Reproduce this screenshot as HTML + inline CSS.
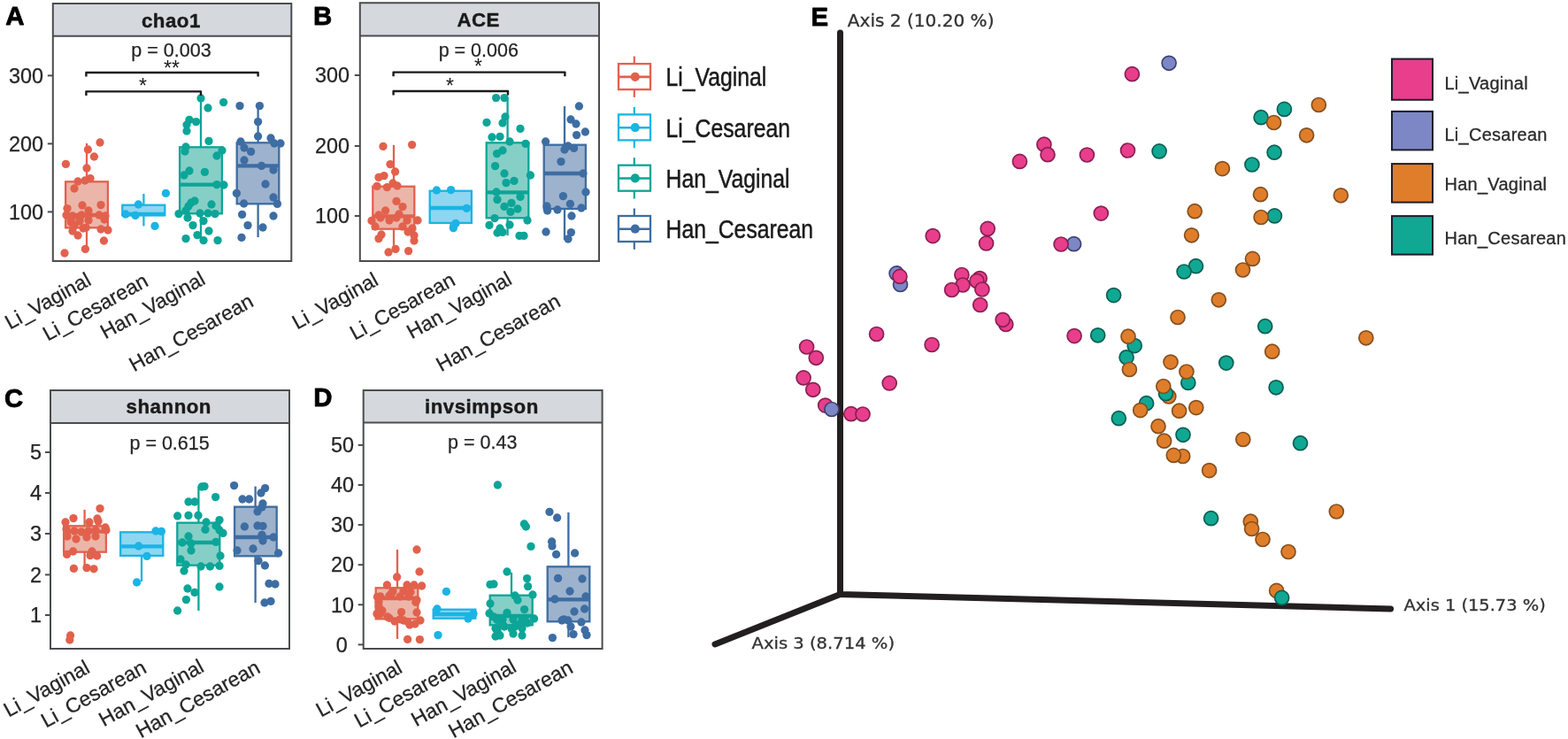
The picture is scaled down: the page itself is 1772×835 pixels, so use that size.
<!DOCTYPE html>
<html lang="en">
<head>
<meta charset="utf-8">
<title>Alpha diversity and PCoA</title>
<style>
html,body{margin:0;padding:0;background:#fff;}
body{width:1772px;height:835px;overflow:hidden;}
svg{display:block;}
text{font-family:"Liberation Sans",Arial,Helvetica,sans-serif;fill:#262626;}
.pl{font-size:30px;font-weight:bold;fill:#000;stroke:#000;stroke-width:0.8px;stroke-linejoin:round;}
.st{font-size:22.3px;font-weight:bold;fill:#1a1a1a;letter-spacing:0.5px;stroke:#1a1a1a;stroke-width:0.4px;}
.pv{font-size:21.5px;stroke:#262626;stroke-width:0.25px;}
.yl{font-size:23.4px;stroke:#262626;stroke-width:0.25px;}
.xl{font-size:23.2px;stroke:#262626;stroke-width:0.25px;}
.star{font-size:23px;fill:#1a1a1a;}
.lg{font-size:29.5px;fill:#1a1a1a;stroke:#1a1a1a;stroke-width:0.5px;}
.ax{font-family:"DejaVu Sans",Verdana,sans-serif;font-size:19px;fill:#333;stroke:#333;stroke-width:0.3px;}
.el{font-size:20px;fill:#2a2a2a;letter-spacing:0.25px;stroke:#2a2a2a;stroke-width:0.3px;}
</style>
</head>
<body>
<svg width="1772" height="835" viewBox="0 0 1772 835">
<rect width="1772" height="835" fill="#fff"/>
<g>
<text transform="translate(6.2 28.2) scale(0.98 1)" class="pl">A</text>
<rect x="59.8" y="4" width="269.5" height="36.8" fill="#d5d8dc"/>
<path d="M59.8 4 H329.3 V295 H59.8 Z M59.8 40.8 H329.3" fill="none" stroke="#4a4c4e" stroke-width="2"/>
<text x="193.4" y="31" class="st" text-anchor="middle">chao1</text>
<text x="193.5" y="64" class="pv" text-anchor="middle">p = 0.003</text>
<line x1="53.8" y1="85.4" x2="59.8" y2="85.4" stroke="#4a4c4e" stroke-width="2"/>
<text x="49" y="93.6" class="yl" text-anchor="end">300</text>
<line x1="53.8" y1="162.4" x2="59.8" y2="162.4" stroke="#4a4c4e" stroke-width="2"/>
<text x="49" y="170.6" class="yl" text-anchor="end">200</text>
<line x1="53.8" y1="239.4" x2="59.8" y2="239.4" stroke="#4a4c4e" stroke-width="2"/>
<text x="49" y="247.6" class="yl" text-anchor="end">100</text>
<line x1="98" y1="162" x2="98" y2="205.3" stroke="#E2614D" stroke-width="2.3"/>
<line x1="98" y1="257.3" x2="98" y2="282" stroke="#E2614D" stroke-width="2.3"/>
<rect x="74.1" y="205.3" width="47.8" height="52.0" fill="#ebb6a9" stroke="#E2614D" stroke-width="2.3"/>
<line x1="74.1" y1="243" x2="121.9" y2="243" stroke="#E2614D" stroke-width="4.4"/>
<line x1="162.4" y1="219" x2="162.4" y2="231.7" stroke="#1BB4E4" stroke-width="2.3"/>
<line x1="162.4" y1="243.3" x2="162.4" y2="255.4" stroke="#1BB4E4" stroke-width="2.3"/>
<rect x="138.3" y="231.7" width="48.0" height="11.6" fill="#8fd6f1" stroke="#1BB4E4" stroke-width="2.3"/>
<line x1="138.3" y1="242" x2="186.3" y2="242" stroke="#1BB4E4" stroke-width="4.4"/>
<line x1="227" y1="111" x2="227" y2="166.3" stroke="#0CA597" stroke-width="2.3"/>
<line x1="227" y1="241.3" x2="227" y2="270" stroke="#0CA597" stroke-width="2.3"/>
<rect x="203.1" y="166.3" width="47.8" height="75.0" fill="#86cfc7" stroke="#0CA597" stroke-width="2.3"/>
<line x1="203.1" y1="208.6" x2="250.9" y2="208.6" stroke="#0CA597" stroke-width="4.4"/>
<line x1="291.6" y1="120" x2="291.6" y2="161.3" stroke="#3D6DA3" stroke-width="2.3"/>
<line x1="291.6" y1="230.3" x2="291.6" y2="268" stroke="#3D6DA3" stroke-width="2.3"/>
<rect x="267.7" y="161.3" width="47.6" height="69.0" fill="#9db2cd" stroke="#3D6DA3" stroke-width="2.3"/>
<line x1="267.7" y1="187.4" x2="315.3" y2="187.4" stroke="#3D6DA3" stroke-width="4.4"/>
<g fill="#E2614D"><circle cx="113.0" cy="161.0" r="4.65"/><circle cx="99.4" cy="169.0" r="4.65"/><circle cx="106.4" cy="177.0" r="4.65"/><circle cx="74.4" cy="185.4" r="4.65"/><circle cx="98.0" cy="190.0" r="4.65"/><circle cx="102.0" cy="201.6" r="4.65"/><circle cx="96.0" cy="204.0" r="4.65"/><circle cx="88.0" cy="205.0" r="4.65"/><circle cx="84.0" cy="213.0" r="4.65"/><circle cx="76.0" cy="235.6" r="4.65"/><circle cx="93.0" cy="232.0" r="4.65"/><circle cx="114.0" cy="231.6" r="4.65"/><circle cx="100.0" cy="238.0" r="4.65"/><circle cx="75.0" cy="243.0" r="4.65"/><circle cx="82.0" cy="244.0" r="4.65"/><circle cx="92.0" cy="243.0" r="4.65"/><circle cx="100.0" cy="244.0" r="4.65"/><circle cx="112.0" cy="243.0" r="4.65"/><circle cx="119.0" cy="244.0" r="4.65"/><circle cx="80.0" cy="249.0" r="4.65"/><circle cx="90.0" cy="250.0" r="4.65"/><circle cx="100.0" cy="249.0" r="4.65"/><circle cx="118.0" cy="248.0" r="4.65"/><circle cx="84.0" cy="255.0" r="4.65"/><circle cx="94.0" cy="258.0" r="4.65"/><circle cx="114.0" cy="259.0" r="4.65"/><circle cx="122.0" cy="260.0" r="4.65"/><circle cx="82.0" cy="261.0" r="4.65"/><circle cx="88.0" cy="266.0" r="4.65"/><circle cx="117.4" cy="272.0" r="4.65"/><circle cx="96.4" cy="281.4" r="4.65"/><circle cx="73.0" cy="286.0" r="4.65"/><circle cx="89.9" cy="247.7" r="4.65"/><circle cx="97.1" cy="257.3" r="4.65"/><circle cx="80.4" cy="251.3" r="4.65"/></g>
<g fill="#1BB4E4"><circle cx="187.4" cy="218.4" r="4.65"/><circle cx="156.4" cy="231.0" r="4.65"/><circle cx="142.0" cy="242.0" r="4.65"/><circle cx="153.0" cy="243.4" r="4.65"/><circle cx="175.0" cy="255.4" r="4.65"/></g>
<g fill="#0CA597"><circle cx="227.0" cy="111.0" r="4.65"/><circle cx="252.6" cy="115.6" r="4.65"/><circle cx="235.0" cy="122.0" r="4.65"/><circle cx="214.0" cy="135.4" r="4.65"/><circle cx="221.6" cy="137.6" r="4.65"/><circle cx="211.0" cy="141.0" r="4.65"/><circle cx="211.0" cy="148.0" r="4.65"/><circle cx="236.0" cy="159.4" r="4.65"/><circle cx="210.0" cy="166.0" r="4.65"/><circle cx="209.0" cy="171.0" r="4.65"/><circle cx="251.0" cy="170.0" r="4.65"/><circle cx="245.0" cy="176.0" r="4.65"/><circle cx="214.0" cy="193.0" r="4.65"/><circle cx="208.0" cy="198.0" r="4.65"/><circle cx="231.4" cy="194.4" r="4.65"/><circle cx="245.0" cy="208.6" r="4.65"/><circle cx="253.0" cy="209.0" r="4.65"/><circle cx="220.0" cy="227.0" r="4.65"/><circle cx="216.0" cy="229.0" r="4.65"/><circle cx="213.0" cy="233.0" r="4.65"/><circle cx="239.0" cy="231.0" r="4.65"/><circle cx="210.0" cy="238.0" r="4.65"/><circle cx="202.0" cy="241.6" r="4.65"/><circle cx="226.0" cy="241.0" r="4.65"/><circle cx="235.0" cy="241.0" r="4.65"/><circle cx="243.0" cy="241.6" r="4.65"/><circle cx="212.0" cy="246.0" r="4.65"/><circle cx="230.0" cy="249.6" r="4.65"/><circle cx="218.0" cy="254.6" r="4.65"/><circle cx="236.0" cy="261.0" r="4.65"/><circle cx="223.0" cy="265.6" r="4.65"/><circle cx="210.0" cy="269.6" r="4.65"/><circle cx="230.0" cy="271.6" r="4.65"/><circle cx="246.0" cy="271.6" r="4.65"/></g>
<g fill="#3D6DA3"><circle cx="271.0" cy="119.6" r="4.65"/><circle cx="293.4" cy="119.6" r="4.65"/><circle cx="291.6" cy="137.6" r="4.65"/><circle cx="291.6" cy="154.0" r="4.65"/><circle cx="306.0" cy="156.0" r="4.65"/><circle cx="272.0" cy="160.0" r="4.65"/><circle cx="310.0" cy="162.0" r="4.65"/><circle cx="317.0" cy="162.0" r="4.65"/><circle cx="276.0" cy="167.0" r="4.65"/><circle cx="283.6" cy="171.4" r="4.65"/><circle cx="276.0" cy="181.0" r="4.65"/><circle cx="295.6" cy="187.4" r="4.65"/><circle cx="309.0" cy="192.0" r="4.65"/><circle cx="300.0" cy="208.0" r="4.65"/><circle cx="267.4" cy="218.4" r="4.65"/><circle cx="309.0" cy="223.0" r="4.65"/><circle cx="275.6" cy="230.0" r="4.65"/><circle cx="313.4" cy="230.4" r="4.65"/><circle cx="273.6" cy="242.4" r="4.65"/><circle cx="309.0" cy="244.0" r="4.65"/><circle cx="280.0" cy="254.6" r="4.65"/><circle cx="297.0" cy="257.0" r="4.65"/><circle cx="273.0" cy="268.4" r="4.65"/></g>
<path d="M97.4 86.6 V82 H291.6 V86.6" fill="none" stroke="#1a1a1a" stroke-width="2.4" stroke-linejoin="round"/>
<text x="194" y="84.5" class="star" text-anchor="middle">**</text>
<path d="M97.4 108.0 V103.4 H227 V108.0" fill="none" stroke="#1a1a1a" stroke-width="2.4" stroke-linejoin="round"/>
<text x="161.4" y="104.5" class="star" text-anchor="middle">*</text>
<text transform="translate(104.4 321) rotate(-29)" class="xl" text-anchor="end">Li_Vaginal</text>
<text transform="translate(169 322) rotate(-29)" class="xl" text-anchor="end">Li_Cesarean</text>
<text transform="translate(233.6 320) rotate(-29)" class="xl" text-anchor="end">Han_Vaginal</text>
<text transform="translate(288 345) rotate(-29)" class="xl" text-anchor="end">Han_Cesarean</text>
</g>
<g>
<text transform="translate(354.0 28.2) scale(0.98 1)" class="pl">B</text>
<rect x="406.8" y="3.2" width="270.2" height="37.4" fill="#d5d8dc"/>
<path d="M406.8 3.2 H677 V295 H406.8 Z M406.8 40.6 H677" fill="none" stroke="#4a4c4e" stroke-width="2"/>
<text x="540.7" y="29.8" class="st" text-anchor="middle">ACE</text>
<text x="540.8" y="64" class="pv" text-anchor="middle">p = 0.006</text>
<line x1="400.8" y1="85" x2="406.8" y2="85" stroke="#4a4c4e" stroke-width="2"/>
<text x="395" y="93.2" class="yl" text-anchor="end">300</text>
<line x1="400.8" y1="165" x2="406.8" y2="165" stroke="#4a4c4e" stroke-width="2"/>
<text x="395" y="173.2" class="yl" text-anchor="end">200</text>
<line x1="400.8" y1="244" x2="406.8" y2="244" stroke="#4a4c4e" stroke-width="2"/>
<text x="395" y="252.2" class="yl" text-anchor="end">100</text>
<line x1="445" y1="164" x2="445" y2="210.7" stroke="#E2614D" stroke-width="2.3"/>
<line x1="445" y1="258.7" x2="445" y2="283" stroke="#E2614D" stroke-width="2.3"/>
<rect x="421.3" y="210.7" width="47.0" height="48.0" fill="#ebb6a9" stroke="#E2614D" stroke-width="2.3"/>
<line x1="421.3" y1="244.4" x2="468.3" y2="244.4" stroke="#E2614D" stroke-width="4.4"/>
<line x1="509.4" y1="215" x2="509.4" y2="215.7" stroke="#1BB4E4" stroke-width="2.3"/>
<line x1="509.4" y1="251.9" x2="509.4" y2="258" stroke="#1BB4E4" stroke-width="2.3"/>
<rect x="485.7" y="215.7" width="47.2" height="36.2" fill="#8fd6f1" stroke="#1BB4E4" stroke-width="2.3"/>
<line x1="485.7" y1="235" x2="532.9" y2="235" stroke="#1BB4E4" stroke-width="4.4"/>
<line x1="573.6" y1="110" x2="573.6" y2="161.3" stroke="#0CA597" stroke-width="2.3"/>
<line x1="573.6" y1="246.3" x2="573.6" y2="266" stroke="#0CA597" stroke-width="2.3"/>
<rect x="549.7" y="161.3" width="47.6" height="85.0" fill="#86cfc7" stroke="#0CA597" stroke-width="2.3"/>
<line x1="549.7" y1="217.4" x2="597.3" y2="217.4" stroke="#0CA597" stroke-width="4.4"/>
<line x1="638" y1="120" x2="638" y2="163.7" stroke="#3D6DA3" stroke-width="2.3"/>
<line x1="638" y1="235.9" x2="638" y2="271" stroke="#3D6DA3" stroke-width="2.3"/>
<rect x="614.7" y="163.7" width="47.2" height="72.2" fill="#9db2cd" stroke="#3D6DA3" stroke-width="2.3"/>
<line x1="614.7" y1="196" x2="661.9" y2="196" stroke="#3D6DA3" stroke-width="4.4"/>
<g fill="#E2614D"><circle cx="433.0" cy="165.4" r="4.65"/><circle cx="465.6" cy="163.6" r="4.65"/><circle cx="441.0" cy="185.6" r="4.65"/><circle cx="446.6" cy="194.0" r="4.65"/><circle cx="434.0" cy="198.6" r="4.65"/><circle cx="428.0" cy="200.4" r="4.65"/><circle cx="444.0" cy="207.0" r="4.65"/><circle cx="426.0" cy="210.4" r="4.65"/><circle cx="437.4" cy="211.6" r="4.65"/><circle cx="449.0" cy="210.0" r="4.65"/><circle cx="448.0" cy="227.4" r="4.65"/><circle cx="455.0" cy="233.6" r="4.65"/><circle cx="435.6" cy="238.0" r="4.65"/><circle cx="428.0" cy="243.0" r="4.65"/><circle cx="451.0" cy="242.0" r="4.65"/><circle cx="420.0" cy="249.4" r="4.65"/><circle cx="430.0" cy="246.0" r="4.65"/><circle cx="440.0" cy="249.0" r="4.65"/><circle cx="448.0" cy="246.0" r="4.65"/><circle cx="460.0" cy="249.0" r="4.65"/><circle cx="472.0" cy="249.0" r="4.65"/><circle cx="424.0" cy="256.0" r="4.65"/><circle cx="455.0" cy="256.0" r="4.65"/><circle cx="466.0" cy="258.0" r="4.65"/><circle cx="461.0" cy="262.0" r="4.65"/><circle cx="468.0" cy="266.0" r="4.65"/><circle cx="431.0" cy="265.0" r="4.65"/><circle cx="428.0" cy="269.6" r="4.65"/><circle cx="468.0" cy="272.0" r="4.65"/><circle cx="447.0" cy="281.4" r="4.65"/><circle cx="439.0" cy="285.0" r="4.65"/><circle cx="461.6" cy="283.6" r="4.65"/></g>
<g fill="#1BB4E4"><circle cx="493.4" cy="215.0" r="4.65"/><circle cx="509.6" cy="214.6" r="4.65"/><circle cx="527.4" cy="235.4" r="4.65"/><circle cx="515.0" cy="252.4" r="4.65"/><circle cx="512.4" cy="257.6" r="4.65"/></g>
<g fill="#0CA597"><circle cx="560.6" cy="110.6" r="4.65"/><circle cx="570.0" cy="110.6" r="4.65"/><circle cx="571.0" cy="132.0" r="4.65"/><circle cx="550.0" cy="138.4" r="4.65"/><circle cx="568.0" cy="139.0" r="4.65"/><circle cx="588.0" cy="145.4" r="4.65"/><circle cx="556.0" cy="155.0" r="4.65"/><circle cx="565.0" cy="154.4" r="4.65"/><circle cx="576.0" cy="160.0" r="4.65"/><circle cx="594.0" cy="162.4" r="4.65"/><circle cx="568.0" cy="170.0" r="4.65"/><circle cx="561.6" cy="173.6" r="4.65"/><circle cx="559.6" cy="187.6" r="4.65"/><circle cx="570.0" cy="196.0" r="4.65"/><circle cx="599.4" cy="198.0" r="4.65"/><circle cx="581.0" cy="204.4" r="4.65"/><circle cx="572.0" cy="206.6" r="4.65"/><circle cx="561.0" cy="217.0" r="4.65"/><circle cx="588.0" cy="222.4" r="4.65"/><circle cx="562.0" cy="225.6" r="4.65"/><circle cx="578.0" cy="229.4" r="4.65"/><circle cx="570.0" cy="233.4" r="4.65"/><circle cx="585.0" cy="236.0" r="4.65"/><circle cx="577.0" cy="239.4" r="4.65"/><circle cx="559.0" cy="246.6" r="4.65"/><circle cx="596.0" cy="249.0" r="4.65"/><circle cx="553.0" cy="254.4" r="4.65"/><circle cx="576.0" cy="254.0" r="4.65"/><circle cx="565.0" cy="258.0" r="4.65"/><circle cx="562.0" cy="263.0" r="4.65"/><circle cx="568.0" cy="262.4" r="4.65"/><circle cx="587.0" cy="266.4" r="4.65"/><circle cx="592.0" cy="266.4" r="4.65"/></g>
<g fill="#3D6DA3"><circle cx="654.4" cy="120.0" r="4.65"/><circle cx="645.0" cy="135.0" r="4.65"/><circle cx="651.0" cy="140.0" r="4.65"/><circle cx="661.4" cy="149.0" r="4.65"/><circle cx="651.6" cy="152.6" r="4.65"/><circle cx="616.6" cy="160.0" r="4.65"/><circle cx="642.0" cy="165.0" r="4.65"/><circle cx="638.0" cy="169.0" r="4.65"/><circle cx="648.6" cy="167.4" r="4.65"/><circle cx="634.0" cy="182.6" r="4.65"/><circle cx="659.0" cy="196.0" r="4.65"/><circle cx="662.0" cy="217.0" r="4.65"/><circle cx="636.4" cy="221.6" r="4.65"/><circle cx="644.4" cy="230.4" r="4.65"/><circle cx="618.0" cy="233.0" r="4.65"/><circle cx="630.0" cy="237.0" r="4.65"/><circle cx="657.0" cy="235.0" r="4.65"/><circle cx="618.6" cy="238.0" r="4.65"/><circle cx="646.0" cy="244.0" r="4.65"/><circle cx="617.0" cy="262.0" r="4.65"/><circle cx="645.4" cy="262.6" r="4.65"/><circle cx="642.0" cy="270.0" r="4.65"/></g>
<path d="M444.6 86.19999999999999 V81.6 H638.4 V86.19999999999999" fill="none" stroke="#1a1a1a" stroke-width="2.4" stroke-linejoin="round"/>
<text x="540.6" y="83" class="star" text-anchor="middle">*</text>
<path d="M444.6 107.6 V103 H574 V107.6" fill="none" stroke="#1a1a1a" stroke-width="2.4" stroke-linejoin="round"/>
<text x="508.4" y="104.5" class="star" text-anchor="middle">*</text>
<text transform="translate(429 321) rotate(-29)" class="xl" text-anchor="end">Li_Vaginal</text>
<text transform="translate(516 321) rotate(-29)" class="xl" text-anchor="end">Li_Cesarean</text>
<text transform="translate(580 320) rotate(-29)" class="xl" text-anchor="end">Han_Vaginal</text>
<text transform="translate(635 345) rotate(-29)" class="xl" text-anchor="end">Han_Cesarean</text>
</g>
<g>
<text transform="translate(5.0 460.0) scale(0.98 1)" class="pl">C</text>
<rect x="57" y="441" width="270.0" height="37.0" fill="#d5d8dc"/>
<path d="M57 441 H327 V733 H57 Z M57 478 H327" fill="none" stroke="#4a4c4e" stroke-width="2"/>
<text x="190.8" y="467" class="st" text-anchor="middle">shannon</text>
<text x="191.6" y="508" class="pv" text-anchor="middle">p = 0.615</text>
<line x1="51.0" y1="511" x2="57" y2="511" stroke="#4a4c4e" stroke-width="2"/>
<text x="47" y="519.2" class="yl" text-anchor="end">5</text>
<line x1="51.0" y1="557" x2="57" y2="557" stroke="#4a4c4e" stroke-width="2"/>
<text x="47" y="565.2" class="yl" text-anchor="end">4</text>
<line x1="51.0" y1="603" x2="57" y2="603" stroke="#4a4c4e" stroke-width="2"/>
<text x="47" y="611.2" class="yl" text-anchor="end">3</text>
<line x1="51.0" y1="649.4" x2="57" y2="649.4" stroke="#4a4c4e" stroke-width="2"/>
<text x="47" y="657.6" class="yl" text-anchor="end">2</text>
<line x1="51.0" y1="695" x2="57" y2="695" stroke="#4a4c4e" stroke-width="2"/>
<text x="47" y="703.2" class="yl" text-anchor="end">1</text>
<line x1="95.6" y1="576" x2="95.6" y2="594.3" stroke="#E2614D" stroke-width="2.3"/>
<line x1="95.6" y1="623.7" x2="95.6" y2="644" stroke="#E2614D" stroke-width="2.3"/>
<rect x="72.1" y="594.3" width="47.8" height="29.4" fill="#ebb6a9" stroke="#E2614D" stroke-width="2.3"/>
<line x1="72.1" y1="600.6" x2="119.9" y2="600.6" stroke="#E2614D" stroke-width="4.4"/>
<line x1="160" y1="600.6" x2="160" y2="601.3" stroke="#1BB4E4" stroke-width="2.3"/>
<line x1="160" y1="627.9" x2="160" y2="657" stroke="#1BB4E4" stroke-width="2.3"/>
<rect x="136.1" y="601.3" width="48.2" height="26.6" fill="#8fd6f1" stroke="#1BB4E4" stroke-width="2.3"/>
<line x1="136.1" y1="617.4" x2="184.3" y2="617.4" stroke="#1BB4E4" stroke-width="4.4"/>
<line x1="224.4" y1="550" x2="224.4" y2="590.7" stroke="#0CA597" stroke-width="2.3"/>
<line x1="224.4" y1="638.7" x2="224.4" y2="690" stroke="#0CA597" stroke-width="2.3"/>
<rect x="200.3" y="590.7" width="48.0" height="48.0" fill="#86cfc7" stroke="#0CA597" stroke-width="2.3"/>
<line x1="200.3" y1="613" x2="248.3" y2="613" stroke="#0CA597" stroke-width="4.4"/>
<line x1="288.6" y1="549.6" x2="288.6" y2="572.7" stroke="#3D6DA3" stroke-width="2.3"/>
<line x1="288.6" y1="628.3" x2="288.6" y2="681" stroke="#3D6DA3" stroke-width="2.3"/>
<rect x="265.1" y="572.7" width="47.6" height="55.6" fill="#9db2cd" stroke="#3D6DA3" stroke-width="2.3"/>
<line x1="265.1" y1="607" x2="312.7" y2="607" stroke="#3D6DA3" stroke-width="4.4"/>
<g fill="#E2614D"><circle cx="113.0" cy="574.6" r="4.65"/><circle cx="83.0" cy="585.6" r="4.65"/><circle cx="110.0" cy="586.0" r="4.65"/><circle cx="74.0" cy="590.0" r="4.65"/><circle cx="101.0" cy="590.0" r="4.65"/><circle cx="111.0" cy="589.0" r="4.65"/><circle cx="119.0" cy="596.0" r="4.65"/><circle cx="120.0" cy="599.0" r="4.65"/><circle cx="75.0" cy="598.0" r="4.65"/><circle cx="84.0" cy="600.0" r="4.65"/><circle cx="92.0" cy="601.0" r="4.65"/><circle cx="100.0" cy="600.0" r="4.65"/><circle cx="108.0" cy="599.0" r="4.65"/><circle cx="76.0" cy="606.0" r="4.65"/><circle cx="86.0" cy="609.0" r="4.65"/><circle cx="98.0" cy="607.0" r="4.65"/><circle cx="108.0" cy="606.0" r="4.65"/><circle cx="82.6" cy="623.0" r="4.65"/><circle cx="75.6" cy="626.4" r="4.65"/><circle cx="104.0" cy="623.0" r="4.65"/><circle cx="102.0" cy="627.6" r="4.65"/><circle cx="109.6" cy="628.0" r="4.65"/><circle cx="83.4" cy="642.4" r="4.65"/><circle cx="98.0" cy="641.6" r="4.65"/><circle cx="106.0" cy="642.8" r="4.65"/><circle cx="79.6" cy="718.0" r="4.65"/><circle cx="78.8" cy="723.0" r="4.65"/></g>
<g fill="#1BB4E4"><circle cx="176.0" cy="600.0" r="4.65"/><circle cx="182.4" cy="600.4" r="4.65"/><circle cx="156.6" cy="617.0" r="4.65"/><circle cx="166.0" cy="628.4" r="4.65"/><circle cx="154.6" cy="658.0" r="4.65"/></g>
<g fill="#0CA597"><circle cx="228.0" cy="550.0" r="4.65"/><circle cx="231.0" cy="549.6" r="4.65"/><circle cx="243.6" cy="561.6" r="4.65"/><circle cx="213.0" cy="567.0" r="4.65"/><circle cx="220.0" cy="567.0" r="4.65"/><circle cx="200.6" cy="583.0" r="4.65"/><circle cx="213.0" cy="582.4" r="4.65"/><circle cx="224.0" cy="582.4" r="4.65"/><circle cx="248.0" cy="587.6" r="4.65"/><circle cx="233.0" cy="590.0" r="4.65"/><circle cx="244.0" cy="594.0" r="4.65"/><circle cx="232.0" cy="598.4" r="4.65"/><circle cx="248.0" cy="599.0" r="4.65"/><circle cx="252.0" cy="602.4" r="4.65"/><circle cx="213.0" cy="606.0" r="4.65"/><circle cx="206.0" cy="613.0" r="4.65"/><circle cx="216.0" cy="614.0" r="4.65"/><circle cx="244.0" cy="612.4" r="4.65"/><circle cx="216.0" cy="622.0" r="4.65"/><circle cx="249.0" cy="628.0" r="4.65"/><circle cx="204.0" cy="632.0" r="4.65"/><circle cx="210.0" cy="638.0" r="4.65"/><circle cx="227.0" cy="640.0" r="4.65"/><circle cx="237.4" cy="640.0" r="4.65"/><circle cx="248.0" cy="639.4" r="4.65"/><circle cx="208.0" cy="645.0" r="4.65"/><circle cx="248.0" cy="663.0" r="4.65"/><circle cx="212.0" cy="665.0" r="4.65"/><circle cx="220.0" cy="669.4" r="4.65"/><circle cx="210.4" cy="677.6" r="4.65"/><circle cx="200.6" cy="690.0" r="4.65"/></g>
<g fill="#3D6DA3"><circle cx="264.6" cy="548.6" r="4.65"/><circle cx="299.6" cy="551.6" r="4.65"/><circle cx="295.0" cy="557.0" r="4.65"/><circle cx="274.0" cy="564.0" r="4.65"/><circle cx="281.6" cy="564.0" r="4.65"/><circle cx="297.0" cy="569.0" r="4.65"/><circle cx="296.0" cy="573.0" r="4.65"/><circle cx="291.0" cy="578.0" r="4.65"/><circle cx="276.4" cy="595.0" r="4.65"/><circle cx="291.0" cy="594.0" r="4.65"/><circle cx="297.0" cy="594.4" r="4.65"/><circle cx="296.0" cy="604.4" r="4.65"/><circle cx="309.0" cy="607.0" r="4.65"/><circle cx="297.0" cy="611.0" r="4.65"/><circle cx="286.0" cy="620.0" r="4.65"/><circle cx="268.0" cy="622.0" r="4.65"/><circle cx="314.6" cy="625.0" r="4.65"/><circle cx="292.0" cy="633.6" r="4.65"/><circle cx="299.4" cy="639.0" r="4.65"/><circle cx="304.0" cy="659.4" r="4.65"/><circle cx="311.0" cy="660.0" r="4.65"/><circle cx="299.0" cy="681.0" r="4.65"/><circle cx="306.0" cy="679.4" r="4.65"/></g>
<text transform="translate(103 759) rotate(-29)" class="xl" text-anchor="end">Li_Vaginal</text>
<text transform="translate(167 759) rotate(-29)" class="xl" text-anchor="end">Li_Cesarean</text>
<text transform="translate(232 758) rotate(-29)" class="xl" text-anchor="end">Han_Vaginal</text>
<text transform="translate(295.6 759) rotate(-29)" class="xl" text-anchor="end">Han_Cesarean</text>
</g>
<g>
<text transform="translate(354.3 459.3) scale(0.98 1)" class="pl">D</text>
<rect x="410.7" y="441" width="269.9" height="36.6" fill="#d5d8dc"/>
<path d="M410.7 441 H680.6 V733 H410.7 Z M410.7 477.6 H680.6" fill="none" stroke="#4a4c4e" stroke-width="2"/>
<text x="544.4" y="466.6" class="st" text-anchor="middle">invsimpson</text>
<text x="545.2" y="507" class="pv" text-anchor="middle">p = 0.43</text>
<line x1="404.7" y1="502.9" x2="410.7" y2="502.9" stroke="#4a4c4e" stroke-width="2"/>
<text x="400" y="511.1" class="yl" text-anchor="end">50</text>
<line x1="404.7" y1="548" x2="410.7" y2="548" stroke="#4a4c4e" stroke-width="2"/>
<text x="400" y="556.2" class="yl" text-anchor="end">40</text>
<line x1="404.7" y1="593.1" x2="410.7" y2="593.1" stroke="#4a4c4e" stroke-width="2"/>
<text x="400" y="601.3" class="yl" text-anchor="end">30</text>
<line x1="404.7" y1="638.2" x2="410.7" y2="638.2" stroke="#4a4c4e" stroke-width="2"/>
<text x="400" y="646.4" class="yl" text-anchor="end">20</text>
<line x1="404.7" y1="683.3" x2="410.7" y2="683.3" stroke="#4a4c4e" stroke-width="2"/>
<text x="400" y="691.5" class="yl" text-anchor="end">10</text>
<line x1="404.7" y1="728.4" x2="410.7" y2="728.4" stroke="#4a4c4e" stroke-width="2"/>
<text x="392.8" y="736.6" class="yl" text-anchor="end">0</text>
<line x1="449" y1="621" x2="449" y2="664.3" stroke="#E2614D" stroke-width="2.3"/>
<line x1="449" y1="699.3" x2="449" y2="722" stroke="#E2614D" stroke-width="2.3"/>
<rect x="424.7" y="664.3" width="47.6" height="35.0" fill="#ebb6a9" stroke="#E2614D" stroke-width="2.3"/>
<line x1="424.7" y1="676" x2="472.3" y2="676" stroke="#E2614D" stroke-width="4.4"/>
<line x1="513.5" y1="688" x2="513.5" y2="688.7" stroke="#1BB4E4" stroke-width="2.3"/>
<line x1="513.5" y1="698.7" x2="513.5" y2="699.4" stroke="#1BB4E4" stroke-width="2.3"/>
<rect x="489.7" y="688.7" width="47.6" height="10.0" fill="#8fd6f1" stroke="#1BB4E4" stroke-width="2.3"/>
<line x1="489.7" y1="694" x2="537.3" y2="694" stroke="#1BB4E4" stroke-width="4.4"/>
<line x1="578" y1="647" x2="578" y2="672.7" stroke="#0CA597" stroke-width="2.3"/>
<line x1="578" y1="706.3" x2="578" y2="720" stroke="#0CA597" stroke-width="2.3"/>
<rect x="553.7" y="672.7" width="48.0" height="33.6" fill="#86cfc7" stroke="#0CA597" stroke-width="2.3"/>
<line x1="553.7" y1="696" x2="601.7" y2="696" stroke="#0CA597" stroke-width="4.4"/>
<line x1="642.4" y1="579" x2="642.4" y2="640.3" stroke="#3D6DA3" stroke-width="2.3"/>
<line x1="642.4" y1="702.3" x2="642.4" y2="720" stroke="#3D6DA3" stroke-width="2.3"/>
<rect x="618.7" y="640.3" width="47.6" height="62.0" fill="#9db2cd" stroke="#3D6DA3" stroke-width="2.3"/>
<line x1="618.7" y1="677.4" x2="666.3" y2="677.4" stroke="#3D6DA3" stroke-width="4.4"/>
<g fill="#E2614D"><circle cx="471.0" cy="621.0" r="4.65"/><circle cx="474.0" cy="646.0" r="4.65"/><circle cx="448.6" cy="652.0" r="4.65"/><circle cx="437.4" cy="661.0" r="4.65"/><circle cx="460.0" cy="661.0" r="4.65"/><circle cx="468.0" cy="661.0" r="4.65"/><circle cx="476.6" cy="662.0" r="4.65"/><circle cx="444.0" cy="668.0" r="4.65"/><circle cx="456.0" cy="668.0" r="4.65"/><circle cx="464.0" cy="669.0" r="4.65"/><circle cx="430.0" cy="674.0" r="4.65"/><circle cx="440.0" cy="673.0" r="4.65"/><circle cx="452.0" cy="674.0" r="4.65"/><circle cx="462.0" cy="674.0" r="4.65"/><circle cx="471.0" cy="678.0" r="4.65"/><circle cx="428.0" cy="680.0" r="4.65"/><circle cx="432.0" cy="690.0" r="4.65"/><circle cx="453.6" cy="691.6" r="4.65"/><circle cx="471.0" cy="692.0" r="4.65"/><circle cx="426.0" cy="693.6" r="4.65"/><circle cx="438.0" cy="697.0" r="4.65"/><circle cx="446.0" cy="702.0" r="4.65"/><circle cx="456.0" cy="701.0" r="4.65"/><circle cx="475.0" cy="701.0" r="4.65"/><circle cx="463.0" cy="706.0" r="4.65"/><circle cx="469.0" cy="705.0" r="4.65"/><circle cx="460.6" cy="722.4" r="4.65"/><circle cx="474.4" cy="722.6" r="4.65"/><circle cx="426.5" cy="674.4" r="4.65"/><circle cx="428" cy="684.9" r="4.65"/><circle cx="429.5" cy="693.8" r="4.65"/><circle cx="439.9" cy="698.3" r="4.65"/><circle cx="451.9" cy="699.8" r="4.65"/><circle cx="460.9" cy="702.8" r="4.65"/><circle cx="469.9" cy="680.4" r="4.65"/><circle cx="442.9" cy="669.9" r="4.65"/></g>
<g fill="#1BB4E4"><circle cx="504.4" cy="668.4" r="4.65"/><circle cx="494.0" cy="688.0" r="4.65"/><circle cx="535.0" cy="693.6" r="4.65"/><circle cx="529.0" cy="699.0" r="4.65"/><circle cx="495.0" cy="717.6" r="4.65"/></g>
<g fill="#0CA597"><circle cx="562.4" cy="548.0" r="4.65"/><circle cx="592.4" cy="592.0" r="4.65"/><circle cx="594.4" cy="595.0" r="4.65"/><circle cx="600.0" cy="617.4" r="4.65"/><circle cx="573.0" cy="646.0" r="4.65"/><circle cx="595.6" cy="653.6" r="4.65"/><circle cx="554.0" cy="660.4" r="4.65"/><circle cx="558.0" cy="660.0" r="4.65"/><circle cx="596.6" cy="662.6" r="4.65"/><circle cx="602.0" cy="672.0" r="4.65"/><circle cx="582.0" cy="673.0" r="4.65"/><circle cx="585.0" cy="678.0" r="4.65"/><circle cx="554.0" cy="682.0" r="4.65"/><circle cx="592.6" cy="688.6" r="4.65"/><circle cx="553.0" cy="693.0" r="4.65"/><circle cx="573.0" cy="692.4" r="4.65"/><circle cx="558.0" cy="697.0" r="4.65"/><circle cx="568.0" cy="700.0" r="4.65"/><circle cx="580.0" cy="700.0" r="4.65"/><circle cx="590.0" cy="699.0" r="4.65"/><circle cx="603.6" cy="699.0" r="4.65"/><circle cx="596.0" cy="704.0" r="4.65"/><circle cx="570.0" cy="708.0" r="4.65"/><circle cx="560.0" cy="710.0" r="4.65"/><circle cx="582.0" cy="708.0" r="4.65"/><circle cx="590.0" cy="710.0" r="4.65"/><circle cx="562.0" cy="713.0" r="4.65"/><circle cx="580.0" cy="716.0" r="4.65"/><circle cx="590.0" cy="718.0" r="4.65"/><circle cx="560.0" cy="719.0" r="4.65"/><circle cx="565.0" cy="718.0" r="4.65"/><circle cx="561.8" cy="700.4" r="4.65"/><circle cx="568" cy="705.5" r="4.65"/><circle cx="578.1" cy="710.5" r="4.65"/><circle cx="586.9" cy="705.5" r="4.65"/><circle cx="593.2" cy="700.4" r="4.65"/><circle cx="561.8" cy="710.5" r="4.65"/></g>
<g fill="#3D6DA3"><circle cx="621.0" cy="578.4" r="4.65"/><circle cx="629.6" cy="585.0" r="4.65"/><circle cx="623.6" cy="612.0" r="4.65"/><circle cx="624.0" cy="617.0" r="4.65"/><circle cx="628.6" cy="626.4" r="4.65"/><circle cx="649.6" cy="625.0" r="4.65"/><circle cx="630.6" cy="653.4" r="4.65"/><circle cx="658.0" cy="654.0" r="4.65"/><circle cx="644.0" cy="668.0" r="4.65"/><circle cx="627.0" cy="677.0" r="4.65"/><circle cx="662.0" cy="674.0" r="4.65"/><circle cx="660.6" cy="688.0" r="4.65"/><circle cx="649.0" cy="691.0" r="4.65"/><circle cx="635.0" cy="701.0" r="4.65"/><circle cx="642.0" cy="701.0" r="4.65"/><circle cx="657.0" cy="703.0" r="4.65"/><circle cx="645.0" cy="708.0" r="4.65"/><circle cx="661.0" cy="712.0" r="4.65"/><circle cx="648.0" cy="716.6" r="4.65"/><circle cx="663.0" cy="717.6" r="4.65"/><circle cx="624.4" cy="720.6" r="4.65"/><circle cx="637.2" cy="699.8" r="4.65"/></g>
<text transform="translate(456 759) rotate(-29)" class="xl" text-anchor="end">Li_Vaginal</text>
<text transform="translate(521 759) rotate(-29)" class="xl" text-anchor="end">Li_Cesarean</text>
<text transform="translate(585 758) rotate(-29)" class="xl" text-anchor="end">Han_Vaginal</text>
<text transform="translate(649 759) rotate(-29)" class="xl" text-anchor="end">Han_Cesarean</text>
</g>
<line x1="716.8" y1="63.6" x2="716.8" y2="109.9" stroke="#E2614D" stroke-width="2.2"/>
<rect x="699" y="72.1" width="36" height="29" fill="#fff" stroke="#E2614D" stroke-width="2.3"/>
<line x1="699" y1="86.9" x2="735" y2="86.9" stroke="#E2614D" stroke-width="2.6"/>
<circle cx="717.8" cy="86.8" r="5.1" fill="#E2614D"/>
<text transform="translate(752.5 97) scale(0.84 1)" class="lg">Li_Vaginal</text>
<line x1="716.8" y1="120.9" x2="716.8" y2="167.2" stroke="#1BB4E4" stroke-width="2.2"/>
<rect x="699" y="129.4" width="36" height="29" fill="#fff" stroke="#1BB4E4" stroke-width="2.3"/>
<line x1="699" y1="144.2" x2="735" y2="144.2" stroke="#1BB4E4" stroke-width="2.6"/>
<circle cx="717.8" cy="144.1" r="5.1" fill="#1BB4E4"/>
<text transform="translate(752.5 154.6) scale(0.84 1)" class="lg">Li_Cesarean</text>
<line x1="716.8" y1="178.2" x2="716.8" y2="224.5" stroke="#0CA597" stroke-width="2.2"/>
<rect x="699" y="186.7" width="36" height="29" fill="#fff" stroke="#0CA597" stroke-width="2.3"/>
<line x1="699" y1="201.5" x2="735" y2="201.5" stroke="#0CA597" stroke-width="2.6"/>
<circle cx="717.8" cy="201.4" r="5.1" fill="#0CA597"/>
<text transform="translate(752.5 212) scale(0.84 1)" class="lg">Han_Vaginal</text>
<line x1="716.8" y1="235.5" x2="716.8" y2="281.8" stroke="#3D6DA3" stroke-width="2.2"/>
<rect x="699" y="244.0" width="36" height="29" fill="#fff" stroke="#3D6DA3" stroke-width="2.3"/>
<line x1="699" y1="258.8" x2="735" y2="258.8" stroke="#3D6DA3" stroke-width="2.6"/>
<circle cx="717.8" cy="258.7" r="5.1" fill="#3D6DA3"/>
<text transform="translate(752.5 268.6) scale(0.84 1)" class="lg">Han_Cesarean</text>
<text transform="translate(916.4 28.8) scale(0.98 1)" class="pl">E</text>
<g stroke="#231f20" stroke-width="7" stroke-linecap="round" fill="none">
<path d="M949.5 37 V671.5 L1571.6 688"/>
<path d="M949.5 671.5 L808 728"/>
</g>
<text transform="translate(957.8 30) scale(1.057 1)" class="ax">Axis 2 (10.20 %)</text>
<text transform="translate(1586.5 689.6) scale(1.103 1)" class="ax" style="font-size:17.6px">Axis 1 (15.73 %)</text>
<text transform="translate(849.5 732.6) scale(1.112 1)" class="ax" style="font-size:17.6px">Axis 3 (8.714 %)</text>
<g fill="#7d87c5" stroke="#3d4272" stroke-width="1.7"><circle cx="1321.1" cy="71.3" r="8"/><circle cx="1213.6" cy="275.7" r="8"/><circle cx="1013.1" cy="308.9" r="8"/><circle cx="1017.5" cy="321.5" r="8"/></g>
<g fill="#e83e8c" stroke="#8a1f52" stroke-width="1.7"><circle cx="1279.4" cy="83.7" r="8"/><circle cx="1179.9" cy="163.2" r="8"/><circle cx="1184.0" cy="174.7" r="8"/><circle cx="1152.4" cy="182.4" r="8"/><circle cx="1228.4" cy="175.0" r="8"/><circle cx="1274.5" cy="170.0" r="8"/><circle cx="1244.3" cy="241.1" r="8"/><circle cx="1116.2" cy="258.4" r="8"/><circle cx="1114.6" cy="274.9" r="8"/><circle cx="1054.2" cy="266.6" r="8"/><circle cx="1199.1" cy="276.0" r="8"/><circle cx="1107.2" cy="314.6" r="8"/><circle cx="1086.9" cy="310.5" r="8"/><circle cx="1088.0" cy="322.0" r="8"/><circle cx="1103.9" cy="317.4" r="8"/><circle cx="1075.6" cy="327.5" r="8"/><circle cx="1109.9" cy="327.0" r="8"/><circle cx="1107.7" cy="344.5" r="8"/><circle cx="1136.8" cy="366.5" r="8"/><circle cx="1133.2" cy="361.3" r="8"/><circle cx="990.6" cy="377.5" r="8"/><circle cx="1053.1" cy="389.5" r="8"/><circle cx="1214.1" cy="379.6" r="8"/><circle cx="911.6" cy="392.0" r="8"/><circle cx="922.3" cy="404.3" r="8"/><circle cx="908.1" cy="426.9" r="8"/><circle cx="918.8" cy="440.3" r="8"/><circle cx="1005.2" cy="432.9" r="8"/><circle cx="932.7" cy="458.1" r="8"/><circle cx="961.8" cy="467.7" r="8"/><circle cx="975.0" cy="468.0" r="8"/></g>
<g fill="#e07d2a" stroke="#84501f" stroke-width="1.7"><circle cx="1320.8" cy="448.0" r="8"/></g>
<g fill="#10a892" stroke="#0a5f55" stroke-width="1.7"><circle cx="1451.4" cy="123.4" r="8"/><circle cx="1425.1" cy="132.7" r="8"/><circle cx="1310.1" cy="170.9" r="8"/><circle cx="1440.1" cy="172.2" r="8"/><circle cx="1414.9" cy="186.0" r="8"/><circle cx="1258.6" cy="333.6" r="8"/><circle cx="1240.7" cy="378.8" r="8"/><circle cx="1282.2" cy="390.6" r="8"/><circle cx="1273.1" cy="403.8" r="8"/><circle cx="1440.4" cy="243.9" r="8"/><circle cx="1351.5" cy="300.7" r="8"/><circle cx="1338.1" cy="307.0" r="8"/><circle cx="1429.7" cy="368.7" r="8"/><circle cx="1385.8" cy="410.1" r="8"/><circle cx="1264.3" cy="472.7" r="8"/><circle cx="1342.8" cy="432.4" r="8"/><circle cx="1317.5" cy="444.7" r="8"/><circle cx="1295.6" cy="455.7" r="8"/><circle cx="1442.1" cy="437.8" r="8"/><circle cx="1337.0" cy="491.3" r="8"/><circle cx="1469.5" cy="500.7" r="8"/><circle cx="1368.6" cy="585.7" r="8"/></g>
<g fill="#e07d2a" stroke="#84501f" stroke-width="1.7"><circle cx="1490.3" cy="118.5" r="8"/><circle cx="1439.6" cy="138.5" r="8"/><circle cx="1476.6" cy="152.8" r="8"/><circle cx="1381.4" cy="190.6" r="8"/><circle cx="1424.5" cy="219.7" r="8"/><circle cx="1515.3" cy="220.8" r="8"/><circle cx="1350.2" cy="238.7" r="8"/><circle cx="1425.1" cy="245.5" r="8"/><circle cx="1346.6" cy="265.8" r="8"/><circle cx="1415.5" cy="292.4" r="8"/><circle cx="1404.5" cy="305.0" r="8"/><circle cx="1377.3" cy="338.8" r="8"/><circle cx="1331.0" cy="358.5" r="8"/><circle cx="1543.8" cy="381.8" r="8"/><circle cx="1437.7" cy="397.2" r="8"/><circle cx="1275.0" cy="380.2" r="8"/><circle cx="1276.4" cy="417.5" r="8"/><circle cx="1323.0" cy="409.1" r="8"/><circle cx="1340.9" cy="420.0" r="8"/><circle cx="1314.8" cy="436.5" r="8"/><circle cx="1288.7" cy="463.6" r="8"/><circle cx="1332.6" cy="464.2" r="8"/><circle cx="1351.8" cy="460.6" r="8"/><circle cx="1309.0" cy="481.7" r="8"/><circle cx="1315.6" cy="498.2" r="8"/><circle cx="1404.8" cy="496.5" r="8"/><circle cx="1336.7" cy="515.5" r="8"/><circle cx="1326.3" cy="514.4" r="8"/><circle cx="1366.6" cy="531.6" r="8"/><circle cx="1510.3" cy="578.0" r="8"/><circle cx="1413.3" cy="589.2" r="8"/><circle cx="1414.6" cy="597.5" r="8"/><circle cx="1427.0" cy="609.5" r="8"/><circle cx="1456.0" cy="623.5" r="8"/><circle cx="1442.6" cy="667.4" r="8"/></g>
<g fill="#e83e8c" stroke="#8a1f52" stroke-width="1.7"><circle cx="1016.9" cy="312.4" r="8"/></g>
<g fill="#7d87c5" stroke="#3d4272" stroke-width="1.7"><circle cx="939.9" cy="462.5" r="8"/></g>
<g fill="#10a892" stroke="#0a5f55" stroke-width="1.7"><circle cx="1448.6" cy="675.4" r="8"/></g>
<rect x="1573" y="66.6" width="46" height="46.2" fill="#e83e8c" stroke="#1d1d2b" stroke-width="2"/>
<text x="1632.5" y="101.1" class="el">Li_Vaginal</text>
<rect x="1573" y="125.9" width="46" height="43.5" fill="#7d87c5" stroke="#1d1d2b" stroke-width="2"/>
<text x="1632.5" y="159.2" class="el">Li_Cesarean</text>
<rect x="1573" y="185.1" width="46" height="43.5" fill="#e07d2a" stroke="#1d1d2b" stroke-width="2"/>
<text x="1632.5" y="214.8" class="el">Han_Vaginal</text>
<rect x="1573" y="244.1" width="46" height="43.5" fill="#10a892" stroke="#1d1d2b" stroke-width="2"/>
<text x="1632.5" y="275.5" class="el">Han_Cesarean</text>
</svg>
</body>
</html>
